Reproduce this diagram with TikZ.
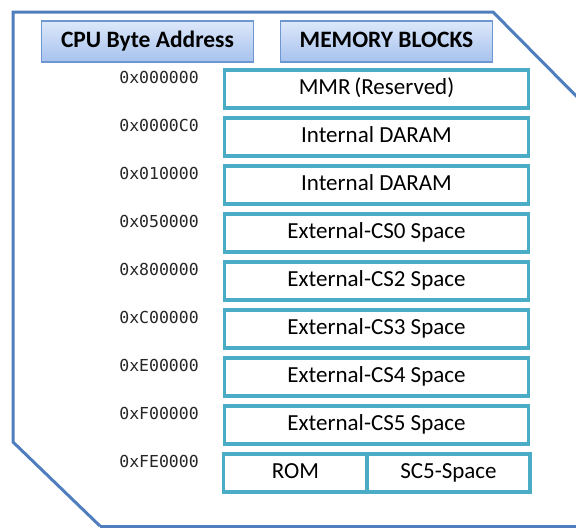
\documentclass[tikz,border=0pt]{standalone}
\usepackage{fontspec}
\setmainfont{Carlito}
\newfontfamily\addrfont{DejaVu Sans Mono}
\definecolor{outerblue}{HTML}{4F7EBF}
\definecolor{teal}{HTML}{4BACC6}
\definecolor{hdrtop}{HTML}{DDE8FA}
\definecolor{hdrbot}{HTML}{A6C2EE}
\definecolor{hdrline}{HTML}{6E97D2}
\begin{document}
\begin{tikzpicture}[x=1pt,y=-1pt,
  hdr/.style={draw=hdrline, line width=1.2pt, top color=hdrtop, bottom color=hdrbot, minimum width=212pt, minimum height=41pt, inner sep=0pt, text height=15pt, text depth=4pt, font=\fontsize{23.5}{26}\selectfont\bfseries},
  mem/.style={draw=teal, line width=3.5pt, fill=white, minimum height=38pt, inner sep=0pt, text height=15pt, text depth=4pt, font=\fontsize{23}{26}\selectfont},
  addr/.style={anchor=east, inner sep=0pt, font=\addrfont\fontsize{16.5}{18}\selectfont, text=black!85}]
\useasboundingbox (0,0) rectangle (576,528);
\draw[outerblue, line width=3pt] (100,526) -- (13,442) -- (13,12) -- (493,12) -- (590,110);
\draw[outerblue, line width=3pt] (100,526) -- (590,526);
\node[hdr] (h1) at (147.5,41.5) {CPU Byte Address};
\node[hdr] (h2) at (386.5,41.5) {MEMORY BLOCKS};
\foreach \i/\a/\t in {0/0x000000/MMR\,(Reserved), 1/0x0000C0/Internal DARAM, 2/0x010000/Internal DARAM, 3/0x050000/External-CS0 Space, 4/0x800000/External-CS2 Space, 5/0xC00000/External-CS3 Space, 6/0xE00000/External-CS4 Space, 7/0xF00000/External-CS5 Space}{
  \node[mem, minimum width=304pt] (m\i) at (376.5,{89+48*\i}) {\t};
  \node[addr] (a\i) at (199,{77+48*\i}) {\a};
}
\node[mem, minimum width=144pt] (rom) at (295.5,473) {ROM};
\node[mem, minimum width=163pt] (sc5) at (448.5,473) {SC5-Space};
\node[addr] (a8) at (199,461) {0xFE0000};
\end{tikzpicture}
\end{document}
